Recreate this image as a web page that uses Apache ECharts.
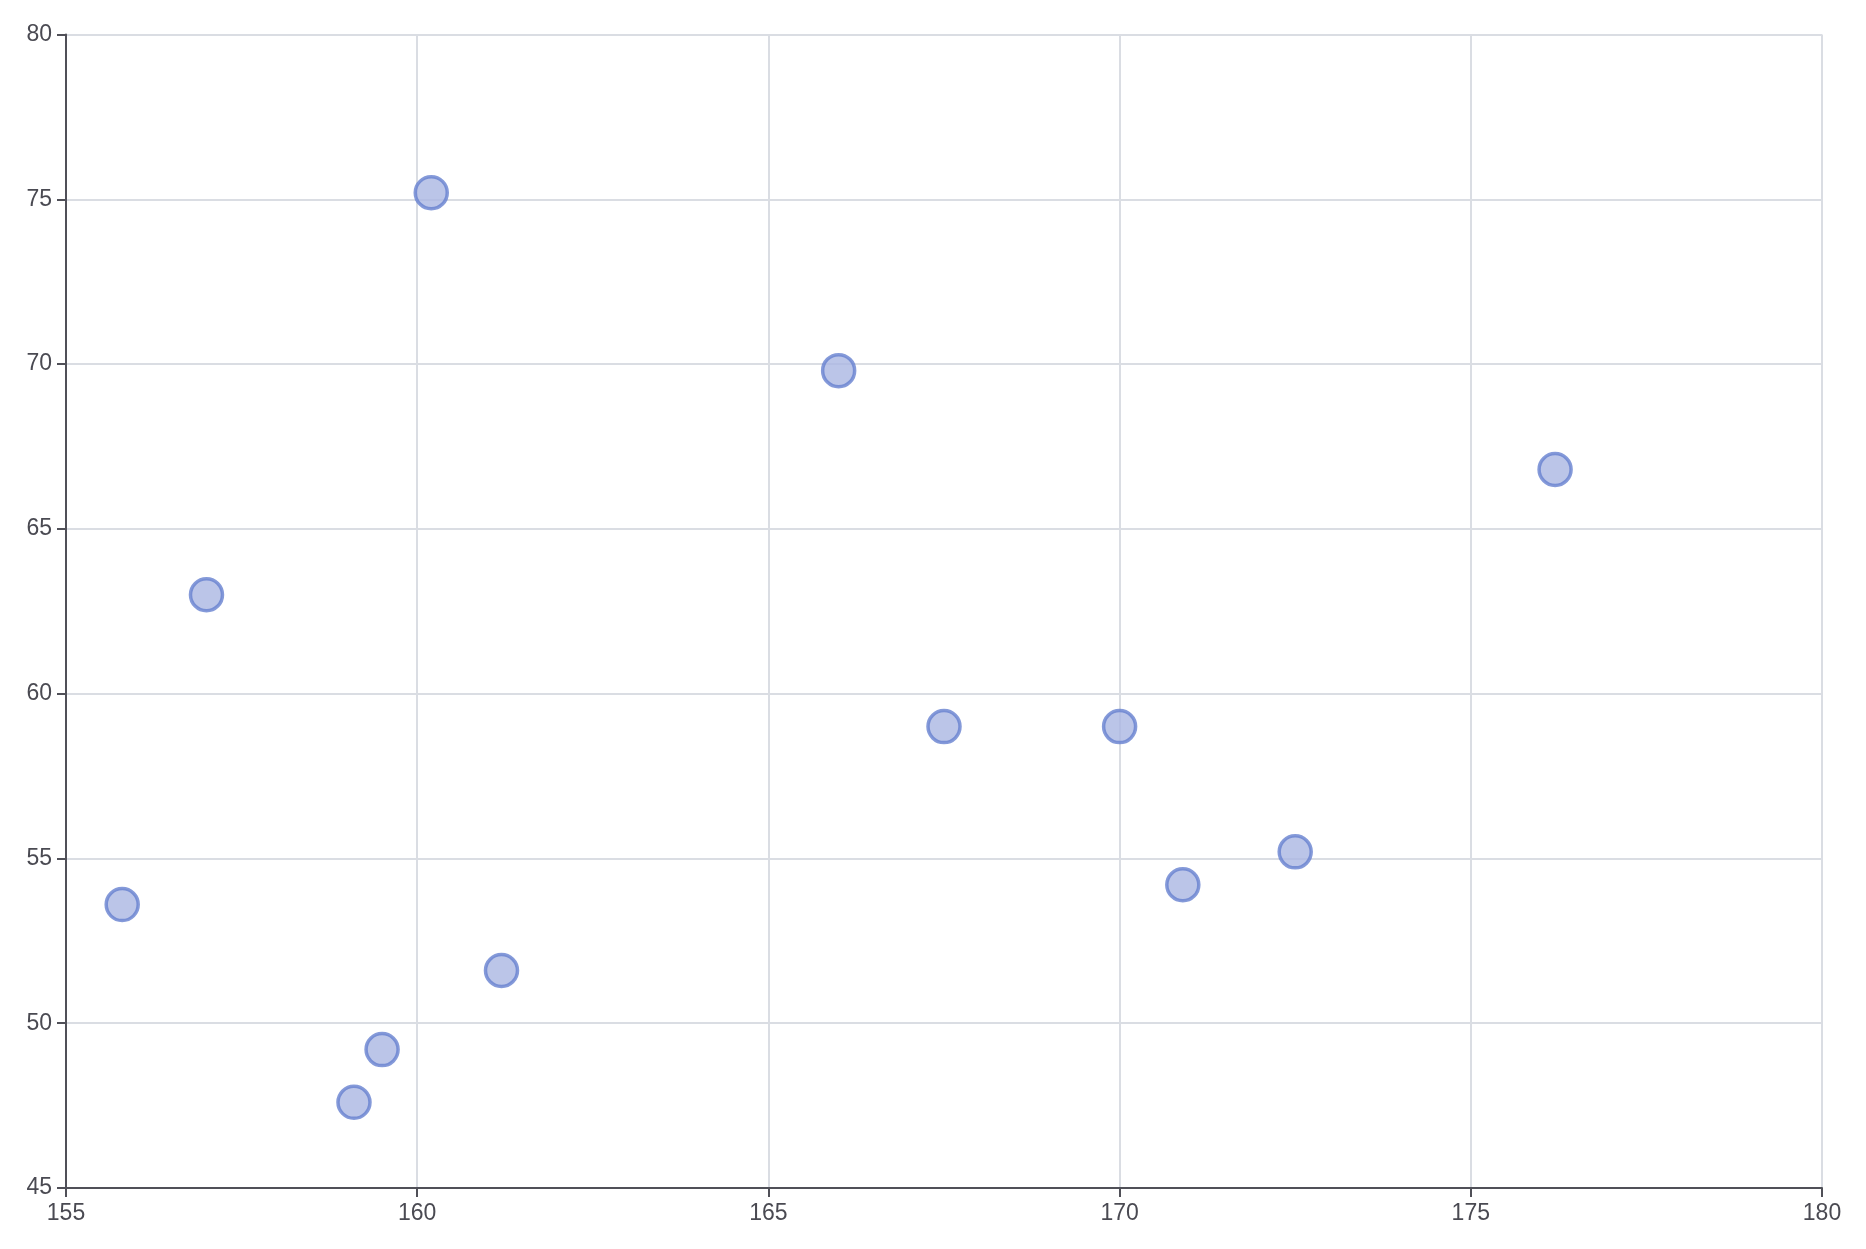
<!DOCTYPE html>
<html>
<head>
<meta charset="utf-8">
<script src="https://cdn.jsdelivr.net/npm/echarts@6/dist/echarts.min.js"></script>
<style>html,body{margin:0;padding:0;background:#fff}#c{width:1866px;height:1249px}</style>
</head>
<body>
<div id="c"></div>
<script>
const xValues = [155.8, 157.0, 159.1, 159.5, 160.2, 161.2, 166.0, 167.5, 170.0, 170.9, 172.5, 176.2];
const yValues = [53.6, 63.0, 47.6, 49.2, 75.2, 51.6, 69.8, 59.0, 59.0, 54.2, 55.2, 66.8];
const xTicks = [155, 160, 165, 170, 175, 180];
const yTicks = [45, 50, 55, 60, 65, 70, 75, 80];

const points = xValues.map((x, i) => [x, yValues[i]]);
const chart = echarts.init(document.getElementById('c'), null, {renderer: 'canvas'});
const axisCommon = {
  type: 'value',
  interval: 5,
  axisLine: {show: true, onZero: false, lineStyle: {color: '#505058', width: 2}},
  axisTick: {show: true, length: 9, lineStyle: {color: '#505058', width: 2}},
  axisLabel: {color: '#4a4a52', fontSize: 23, margin: 14, fontFamily: 'Helvetica, Arial, sans-serif'},
  splitLine: {show: true, lineStyle: {color: '#dadde3', width: 2}}
};
chart.setOption({
  animation: false,
  grid: {left: 66, right: 44, top: 34.5, bottom: 61, containLabel: false},
  xAxis: Object.assign({}, axisCommon, {min: xTicks[0], max: xTicks[xTicks.length - 1]}),
  yAxis: Object.assign({}, axisCommon, {min: yTicks[0], max: yTicks[yTicks.length - 1]}),
  series: [{
    type: 'scatter',
    data: points,
    symbolSize: 32,
    itemStyle: {color: '#aab7e2', borderColor: '#6681d0', borderWidth: 3.5}
  }]
});
</script>
</body>
</html>
